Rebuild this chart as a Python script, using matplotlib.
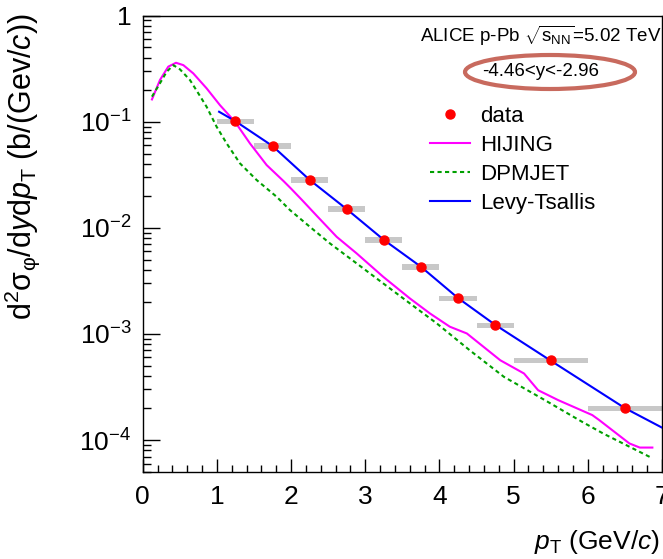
import matplotlib
matplotlib.use("Agg")
import matplotlib.pyplot as plt
from matplotlib.patches import Ellipse
from matplotlib.ticker import FixedLocator, MultipleLocator, LogLocator, NullFormatter

plt.rcParams['font.family'] = ['Liberation Sans', 'DejaVu Sans']
plt.rcParams['mathtext.fontset'] = 'custom'
plt.rcParams['mathtext.rm'] = 'Liberation Sans'
plt.rcParams['mathtext.it'] = 'Liberation Sans:italic'
plt.rcParams['mathtext.bf'] = 'Liberation Sans:bold'

# data points (pT bin centres, cross section, bin edges, systematic)
pt = [1.25, 1.75, 2.25, 2.75, 3.25, 3.75, 4.25, 4.75, 5.5, 6.5]
xs = [0.101, 0.0589, 0.0282, 0.0150, 0.00766, 0.00427, 0.00217, 0.00121, 0.000566, 0.000200]
bin_lo = [1.0, 1.5, 2.0, 2.5, 3.0, 3.5, 4.0, 4.5, 5.0, 6.0]
bin_hi = [1.5, 2.0, 2.5, 3.0, 3.5, 4.0, 4.5, 5.0, 6.0, 7.0]
syst = [0.0060, 0.0035, 0.0017, 0.00090, 0.00045, 0.00025, 0.00013, 0.000070, 0.000031, 0.000011]

# HIJING curve
hij_x = [0.125, 0.233, 0.345, 0.449, 0.548, 0.682, 0.862, 1.042, 1.244, 1.446, 1.671, 1.9, 2.0,
         2.15, 2.35, 2.615, 2.884, 3.243, 3.602, 3.872, 4.14, 4.37, 4.82, 5.14, 5.33, 5.6, 6.06,
         6.15, 6.56, 6.70, 6.87]
hij_y = [0.162, 0.247, 0.33, 0.359, 0.341, 0.285, 0.206, 0.143, 0.0998, 0.0624, 0.039, 0.0275, 0.0234,
         0.0182, 0.0129, 0.00822, 0.00574, 0.00345, 0.00216, 0.00156, 0.00117, 0.00101, 0.000565,
         0.000424, 0.000295, 0.000238, 0.000172, 0.000155, 0.000093, 0.000085, 0.000085]

# DPMJET curve
dpm_x = [0.125, 0.233, 0.323, 0.413, 0.503, 0.637, 0.75, 0.862, 0.997, 1.132, 1.311, 1.536, 1.806,
         1.985, 2.255, 2.524, 2.884, 3.243, 3.602, 3.962, 4.41, 4.87, 5.42, 5.92, 6.21, 6.52, 6.86]
dpm_y = [0.172, 0.23, 0.295, 0.341, 0.311, 0.247, 0.185, 0.138, 0.0895, 0.0624, 0.0405, 0.0282,
         0.0196, 0.0147, 0.0102, 0.00713, 0.00462, 0.00299, 0.00194, 0.00126, 0.00070, 0.000394,
         0.000238, 0.000149, 0.000115, 0.0000895, 0.000068]

# Levy-Tsallis fit
levy_x = [1.03, 1.25, 1.75, 2.25, 2.75, 3.25, 3.75, 4.25, 4.75, 5.5, 6.5, 7.0]
levy_y = [0.124, 0.101, 0.0590, 0.0283, 0.0150, 0.0077, 0.0043, 0.00218, 0.00122, 0.00056, 0.000200, 0.000131]

fig = plt.figure(figsize=(6.63, 5.59), dpi=100)
ax = fig.add_axes([0.2152, 0.1556, 0.7833, 0.8166])
ax.set_yscale('log')
ax.set_xlim(0, 7)
ax.set_ylim(5e-5, 1)

# systematic boxes
centres = [(a + b) / 2 for a, b in zip(bin_lo, bin_hi)]
widths = [b - a for a, b in zip(bin_lo, bin_hi)]
lows = [y - s for y, s in zip(xs, syst)]
ax.bar(centres, [2 * s for s in syst], width=widths, bottom=lows, color='#c8c8c8', zorder=1)

ax.plot(hij_x, hij_y, color='#ff00ff', lw=1.5, label='HIJING', zorder=2)
ax.plot(dpm_x, dpm_y, color='#00a000', lw=1.5, ls=(0, (2, 1.6)), label='DPMJET', zorder=2)
ax.plot(levy_x, levy_y, color='#0000ff', lw=1.5, label='Levy-Tsallis', zorder=3)
ax.plot(pt, xs, 'o', color='#ff0000', ms=6.5, label='data', zorder=4)

# ticks ROOT style
ax.xaxis.set_major_locator(MultipleLocator(1))
ax.xaxis.set_minor_locator(MultipleLocator(0.2))
ax.yaxis.set_major_locator(FixedLocator([1e-4, 1e-3, 1e-2, 1e-1, 1]))
ax.set_yticklabels([r'$10^{-4}$', r'$10^{-3}$', r'$10^{-2}$', r'$10^{-1}$', '1'])
ax.yaxis.set_minor_locator(LogLocator(base=10, subs=range(2, 10)))
ax.yaxis.set_minor_formatter(NullFormatter())
ax.tick_params(which='both', direction='in', top=False, right=False, color='black', width=1)
ax.tick_params(axis='x', which='major', length=9.5, labelsize=19, pad=9)
ax.tick_params(axis='x', which='minor', length=5)
ax.tick_params(axis='y', which='major', length=12, labelsize=19, pad=8)
ax.tick_params(axis='y', which='minor', length=6)
for sp in ax.spines.values():
    sp.set_linewidth(1.0)

fig.text(0.033, 0.977, r'd$^{2}$σ$_{\mathregular{φ}}$/d$y$d$p_{\mathregular{T}}$ (b/(Gev/$c$))',
         rotation=90, ha='center', va='top', fontsize=22)
fig.text(0.995, 0.017, r'$p_{\mathregular{T}}$ (GeV/$c$)', ha='right', va='baseline', fontsize=19)

fig.text(541 / 663, 1 - 36 / 559, r'ALICE p-Pb $\sqrt{\mathregular{s}_{\mathregular{NN}}}$=5.02 TeV',
         ha='center', va='center', fontsize=13.5)
fig.text(541 / 663, 1 - 71 / 559, '-4.46<y<-2.96', ha='center', va='center', fontsize=13.5)
fig.add_artist(Ellipse((550 / 663, 1 - 72 / 559), 170 / 663, 34 / 559, transform=fig.transFigure,
                       fill=False, ec='#c86a5e', lw=3))

handles, labels = ax.get_legend_handles_labels()
order = [3, 0, 1, 2]
ax.legend([handles[i] for i in order], [labels[i] for i in order], loc='upper left',
          bbox_to_anchor=(430 / 663, 1 - 106 / 559), bbox_transform=fig.transFigure,
          frameon=False, fontsize=16, handlelength=1.8, handletextpad=0.45,
          labelspacing=0.36, borderpad=0, borderaxespad=0)

fig.savefig('out.png', dpi=100)
